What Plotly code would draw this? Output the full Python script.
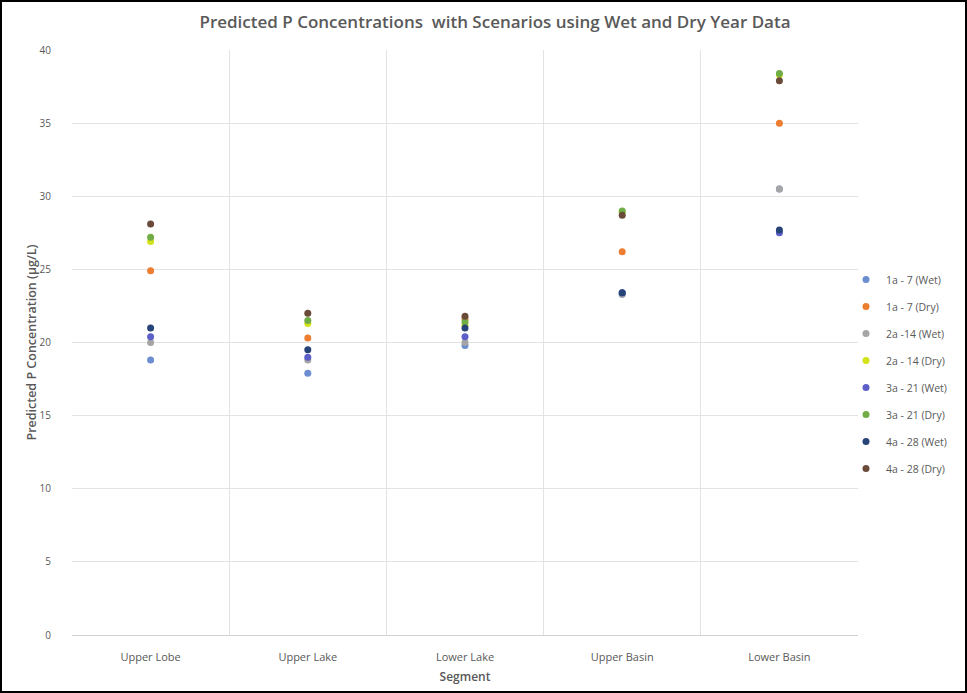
import plotly.graph_objects as go

segments = ["Upper Lobe", "Upper Lake", "Lower Lake", "Upper Basin", "Lower Basin"]

series_names = ["1a - 7 (Wet)", "1a - 7 (Dry)", "2a -14 (Wet)", "2a - 14 (Dry)",
                "3a - 21 (Wet)", "3a - 21 (Dry)", "4a - 28 (Wet)", "4a - 28 (Dry)"]

s1a_wet = [18.8, 17.9, 19.8, 23.3, 30.5]
s1a_dry = [24.9, 20.3, 21.6, 26.2, 35.0]
s2a_wet = [20.0, 18.8, 20.0, 23.3, 30.5]
s2a_dry = [26.9, 21.3, 21.2, 28.9, 38.3]
s3a_wet = [20.4, 19.0, 20.4, 23.4, 27.5]
s3a_dry = [27.2, 21.5, 21.4, 29.0, 38.4]
s4a_wet = [21.0, 19.5, 21.0, 23.4, 27.7]
s4a_dry = [28.1, 22.0, 21.8, 28.7, 37.9]

series_values = [s1a_wet, s1a_dry, s2a_wet, s2a_dry, s3a_wet, s3a_dry, s4a_wet, s4a_dry]
colors = ["#6A8ED0", "#ED7D31", "#A5A5A5", "#D4E21A", "#5B5FC7", "#70AD47", "#264478", "#6A4A38"]

fig = go.Figure()
for i, (name, vals) in enumerate(zip(series_names, series_values)):
    fig.add_trace(go.Scatter(
        x=segments, y=vals, mode="markers", name=name, legendgroup=f"g{i}",
        marker=dict(color=colors[i], size=7, line=dict(width=0)),
    ))

L, R, T, B = 72, 109, 50, 58
W, H = 967, 693
pw, ph = W - L - R, H - T - B

fig.update_layout(
    width=W, height=H,
    margin=dict(l=L, r=R, t=T, b=B, autoexpand=False),
    paper_bgcolor="white", plot_bgcolor="white",
    font=dict(family="Open Sans", color="#595959", size=11),
    title=dict(text="Predicted P Concentrations  with Scenarios using Wet and Dry Year Data",
               x=(495 - L) / pw, xref="paper", xanchor="center", y=1 - 22 / H, yanchor="middle",
               font=dict(family="Open Sans", size=17, color="#595959", weight=600)),
    showlegend=True,
    legend=dict(x=(846 - L) / pw, xanchor="left", y=1 - (374 - T) / ph, yanchor="middle",
                font=dict(size=10.5, color="#595959"), tracegroupgap=8,
                itemwidth=30, bgcolor="rgba(0,0,0,0)"),
    xaxis=dict(type="category", tickson="boundaries", range=[-0.5, 4.5], showgrid=True,
               gridcolor="#E3E3E3", ticks="", showline=False, automargin=False,
               ticklabelstandoff=14,
               title=dict(text="Segment", font=dict(size=12, color="#595959", weight=600), standoff=9),
               tickfont=dict(size=11, color="#595959")),
    yaxis=dict(range=[0, 40], dtick=5, showgrid=True, gridcolor="#E3E3E3",
               zeroline=True, zerolinecolor="#D0D0D0", zerolinewidth=1, automargin=False,
               tickfont=dict(size=10, color="#595959"), ticks="", ticklabelstandoff=20,
               title=dict(text="Predicted P Concentration (µg/L)",
                          font=dict(size=12.5, color="#595959", weight=600), standoff=0)),
)

fig.add_shape(type="rect", xref="paper", yref="paper",
              x0=-(L - 1) / pw, x1=1 + (R - 1) / pw, y0=-(B - 1) / ph, y1=1 + (T - 1) / ph,
              line=dict(color="black", width=2), fillcolor="rgba(0,0,0,0)", layer="above")

fig.write_html("out.html", config={"displayModeBar": False},
               post_script="document.body.style.margin='0';document.body.style.overflow='hidden';")
